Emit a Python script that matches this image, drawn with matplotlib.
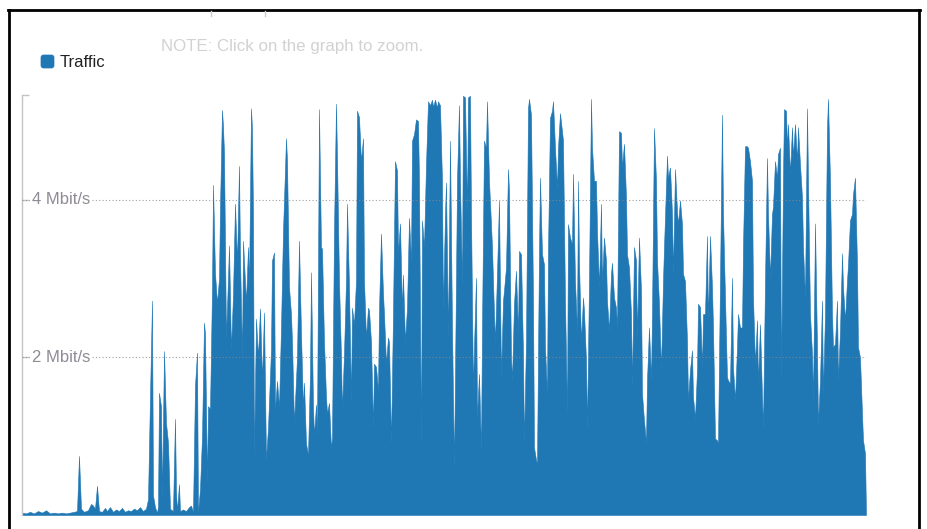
import matplotlib
matplotlib.use("Agg")
import matplotlib.pyplot as plt
from matplotlib.lines import Line2D
from matplotlib.patches import FancyBboxPatch
from matplotlib.transforms import IdentityTransform, offset_copy

plt.rcParams['font.family'] = ['Liberation Sans', 'DejaVu Sans']

# Traffic samples: sample index and throughput in Mbit/s
sample = [
    0, 4, 8, 12, 16, 20, 24, 28, 32, 36, 40, 44, 48, 52, 55, 57, 59, 62, 66, 69,
    71, 73, 75, 77, 80, 83, 85, 88, 91, 94, 97, 100, 103, 106, 109, 112, 115, 118, 121, 124,
    126, 128, 130, 131, 133, 135, 136, 137, 139, 140, 142, 144, 146, 148, 151, 153, 154, 155, 157, 158,
    161, 164, 167, 169, 171, 173, 175, 176, 178, 180, 182, 183, 185, 186, 188, 190, 191, 193, 195, 197,
    198, 200, 201, 202, 204, 206, 207, 209, 211, 213, 215, 217, 218, 220, 221, 224, 226, 227, 229, 230,
    231, 232, 234, 236, 238, 240, 242, 244, 246, 249, 250, 252, 253, 255, 257, 259, 261, 264, 265, 267,
    269, 270, 272, 275, 277, 279, 281, 282, 284, 286, 288, 289, 291, 292, 294, 295, 297, 299, 300, 302,
    304, 305, 307, 309, 310, 312, 314, 315, 317, 319, 320, 322, 324, 325, 327, 329, 330, 332, 334, 335,
    337, 339, 341, 342, 344, 346, 347, 349, 351, 352, 354, 356, 357, 359, 361, 362, 364, 366, 367, 369,
    371, 373, 375, 376, 378, 380, 381, 383, 385, 387, 389, 390, 392, 394, 396, 397, 399, 400, 402, 404,
    406, 408, 410, 411, 413, 415, 416, 418, 420, 421, 423, 424, 426, 428, 430, 432, 434, 435, 437, 438,
    440, 441, 443, 445, 446, 448, 449, 451, 452, 454, 455, 457, 459, 460, 462, 464, 465, 467, 469, 470,
    472, 473, 475, 477, 479, 481, 482, 484, 486, 487, 489, 490, 492, 494, 496, 497, 499, 501, 502, 504,
    506, 507, 509, 511, 512, 514, 515, 517, 518, 520, 522, 523, 525, 526, 528, 530, 531, 533, 535, 536,
    538, 540, 541, 543, 545, 546, 548, 550, 551, 553, 555, 556, 557, 559, 561, 562, 564, 565, 567, 569,
    570, 572, 574, 575, 577, 579, 580, 582, 584, 585, 587, 589, 590, 592, 594, 595, 597, 599, 600, 602,
    604, 605, 607, 609, 610, 612, 614, 615, 617, 619, 620, 622, 624, 625, 627, 629, 630, 632, 634, 635,
    637, 639, 641, 642, 645, 646, 648, 650, 651, 653, 655, 656, 658, 660, 661, 663, 665, 666, 668, 670,
    671, 673, 675, 676, 678, 680, 681, 683, 685, 686, 688, 690, 691, 693, 695, 696, 698, 700, 701, 703,
    705, 706, 708, 710, 711, 713, 715, 716, 718, 720, 721, 723, 725, 726, 728, 730, 731, 733, 735, 736,
    738, 740, 741, 743, 745, 746, 748, 750, 751, 753, 755, 756, 758, 759, 761, 762, 764, 765, 766, 768,
    770, 771, 773, 775, 776, 778, 780, 781, 783, 785, 786, 788, 790, 791, 793, 795, 796, 798, 800, 801,
    803, 805, 806, 808, 810, 811, 813, 815, 816, 818, 820, 821, 823, 825, 826, 828, 830, 831, 833, 835,
    836, 838, 840, 841, 843, 844,
]
mbps = [
    0.03, 0.02, 0.04, 0.02, 0.05, 0.03, 0.06, 0.02, 0.03, 0.02, 0.03, 0.02, 0.03, 0.04, 0.05, 0.75, 0.08, 0.04, 0.06, 0.14,
    0.12, 0.08, 0.37, 0.05, 0.04, 0.09, 0.05, 0.10, 0.04, 0.07, 0.05, 0.09, 0.04, 0.06, 0.05, 0.08, 0.06, 0.10, 0.05, 0.08,
    0.20, 1.50, 2.72, 0.25, 0.10, 0.03, 0.10, 1.55, 1.38, 0.20, 2.08, 1.17, 0.92, 0.08, 0.05, 1.22, 0.30, 0.05, 0.39, 0.05,
    0.07, 0.05, 0.10, 0.12, 0.04, 1.64, 2.06, 0.03, 0.33, 1.00, 2.44, 2.30, 0.41, 1.38, 1.35, 2.86, 4.19, 3.07, 2.69, 3.00,
    3.90, 5.14, 4.93, 4.60, 2.25, 3.00, 3.42, 2.09, 2.80, 3.95, 3.20, 4.43, 3.30, 2.00, 3.48, 2.70, 3.40, 2.90, 5.16, 4.90,
    3.80, 0.73, 2.49, 2.00, 2.62, 1.71, 2.57, 0.70, 1.11, 2.10, 3.23, 3.33, 1.33, 1.70, 1.37, 2.38, 3.60, 4.78, 4.50, 2.89,
    2.55, 2.20, 1.16, 2.00, 3.48, 2.30, 1.35, 1.68, 0.91, 0.76, 1.80, 3.08, 1.37, 1.01, 1.40, 1.02, 5.15, 3.40, 3.38, 2.20,
    1.50, 1.29, 1.42, 0.85, 0.97, 3.60, 5.22, 4.53, 2.97, 2.00, 1.33, 2.05, 2.97, 3.95, 2.90, 1.45, 2.63, 2.42, 2.97, 5.13,
    5.05, 4.49, 4.78, 2.97, 2.25, 2.63, 2.60, 2.20, 1.11, 1.92, 1.88, 1.58, 2.60, 3.57, 2.81, 2.55, 1.92, 2.25, 2.20, 0.91,
    2.55, 4.49, 4.37, 3.33, 3.70, 2.60, 3.05, 2.20, 2.63, 3.77, 3.22, 4.75, 4.83, 5.02, 5.00, 4.24, 0.86, 3.74, 3.40, 4.45,
    5.25, 5.20, 5.27, 5.18, 5.27, 5.17, 5.25, 5.20, 4.24, 2.60, 3.82, 4.22, 2.25, 4.75, 2.38, 0.60, 2.97, 4.24, 5.20, 4.24,
    2.91, 5.32, 5.30, 3.86, 5.30, 5.32, 3.82, 1.58, 2.13, 3.01, 1.24, 1.79, 0.82, 2.38, 4.75, 4.66, 5.25, 4.24, 3.69, 3.40,
    2.55, 2.20, 3.06, 3.99, 1.75, 2.72, 2.85, 3.14, 4.39, 4.11, 2.00, 1.71, 2.68, 3.10, 2.30, 3.35, 3.31, 2.04, 0.91, 2.21,
    5.16, 5.28, 5.08, 2.72, 0.86, 0.70, 0.66, 3.35, 4.28, 3.31, 3.18, 2.13, 1.54, 3.35, 5.04, 5.13, 5.25, 4.66, 4.15, 4.66,
    5.10, 4.87, 4.75, 2.72, 1.29, 3.69, 3.52, 3.44, 4.33, 2.97, 2.34, 4.24, 3.20, 2.20, 2.76, 2.59, 1.96, 1.08, 2.97, 5.28,
    4.66, 4.24, 4.24, 3.61, 2.89, 3.95, 2.97, 3.52, 3.23, 2.72, 2.34, 3.06, 3.20, 2.76, 2.63, 2.38, 4.87, 4.85, 4.41, 4.71,
    4.03, 3.31, 3.14, 2.55, 1.62, 3.40, 3.23, 2.25, 3.52, 2.85, 1.54, 1.20, 0.92, 1.71, 2.38, 1.71, 2.55, 4.91, 4.24, 3.23,
    2.68, 1.84, 2.97, 3.40, 4.56, 4.28, 4.41, 3.82, 3.06, 4.39, 3.86, 3.69, 3.99, 3.69, 3.06, 2.97, 2.21, 1.46, 1.84, 2.09,
    1.50, 1.23, 1.84, 2.68, 2.64, 1.87, 2.55, 2.55, 3.54, 2.46, 3.54, 2.89, 2.38, 0.97, 0.95, 0.91, 2.97, 5.08, 3.82, 2.76,
    1.75, 1.71, 1.67, 3.01, 1.87, 1.46, 2.13, 2.55, 2.38, 2.38, 3.40, 4.68, 4.68, 4.66, 4.49, 4.24, 2.76, 1.92, 2.47, 1.67,
    2.42, 1.50, 1.10, 2.97, 4.53, 3.82, 3.01, 3.82, 3.91, 4.49, 4.28, 4.58, 4.66, 1.71, 4.28, 5.15, 5.13, 4.66, 4.96, 4.33,
    4.92, 4.54, 4.96, 4.49, 4.92, 4.45, 4.03, 3.40, 2.76, 5.16, 4.24, 2.55, 2.04, 1.46, 3.70, 2.13, 1.16, 1.71, 2.72, 1.54,
    2.55, 4.91, 5.28, 4.24, 2.55, 2.13, 2.17, 2.72, 1.71, 2.34, 3.32, 2.89, 2.47, 2.97, 3.18, 3.74, 3.82, 4.07, 4.28, 3.18,
    2.13, 2.00, 1.29, 0.95, 0.78, 0.00,
]
y_ticks = [2, 4]
y_tick_labels = ["2 Mbit/s", "4 Mbit/s"]
y_top = 5.33
series_name = "Traffic"
note = "NOTE: Click on the graph to zoom."

W, H = 928, 529
BLUE = '#1f77b4'

fig = plt.figure(figsize=(W / 100, H / 100), dpi=100)
ax = fig.add_axes([22 / W, 1 - 515 / H, (866 - 22) / W, (515 - 95) / H])

ax.fill_between(sample, mbps, 0, color=BLUE, lw=0.4, edgecolor=BLUE, zorder=2)
ax.set_xlim(sample[0], sample[-1])
ax.set_ylim(0, y_top)

# dotted horizontal guides drawn over the area
for v in y_ticks:
    ax.axhline(v, ls=(0, (1, 2)), color='#8a8a8a', lw=0.8, alpha=0.8, zorder=3)

for side in ('top', 'right', 'bottom'):
    ax.spines[side].set_visible(False)
ax.spines['left'].set_color('#c4c4c4')
ax.spines['left'].set_linewidth(1.0)
ax.set_xticks([])
ax.set_yticks(y_ticks + [y_top])
ax.tick_params(axis='y', direction='in', length=5, width=1.0, color='#c4c4c4',
               labelleft=False)

label_tr = offset_copy(ax.get_yaxis_transform(), fig=fig, x=10, y=0, units='dots')
for v, lab in zip(y_ticks, y_tick_labels):
    ax.text(0, v, lab, transform=label_tr, ha='left', va='center', fontsize=12,
            color='#8f8a94', zorder=4,
            bbox=dict(boxstyle='square,pad=0.12', fc='white', ec='none'))

# legend swatch and label
fig.add_artist(FancyBboxPatch((41, H - 68), 13, 13,
                              boxstyle='round,pad=0,rounding_size=2.5',
                              fc=BLUE, ec=BLUE, lw=0.5,
                              transform=IdentityTransform()))
fig.text(60 / W, 1 - 62.5 / H, series_name, ha='left', va='center',
         fontsize=12, color='#222222')
fig.text(161 / W, 1 - 47 / H, note, ha='left', va='center', fontsize=12.2,
         color='#d2d2d2')

# frame around the panel
frame = dict(transform=fig.transFigure, color='black', lw=2.0)
fig.add_artist(Line2D([9 / W, 9 / W], [0, 1 - 10 / H], **frame))
fig.add_artist(Line2D([8 / W, 920 / W], [1 - 10 / H, 1 - 10 / H], **frame))
fig.add_artist(Line2D([919 / W, 919 / W], [0, 1 - 10 / H], **frame))

# clipped heading fragments at the top edge
for xp in (211, 265):
    fig.add_artist(Line2D([xp / W, xp / W], [1 - 11 / H, 1 - 16 / H],
                          transform=fig.transFigure, color='#cccccc', lw=1.0))

fig.savefig('out.png', dpi=100)
